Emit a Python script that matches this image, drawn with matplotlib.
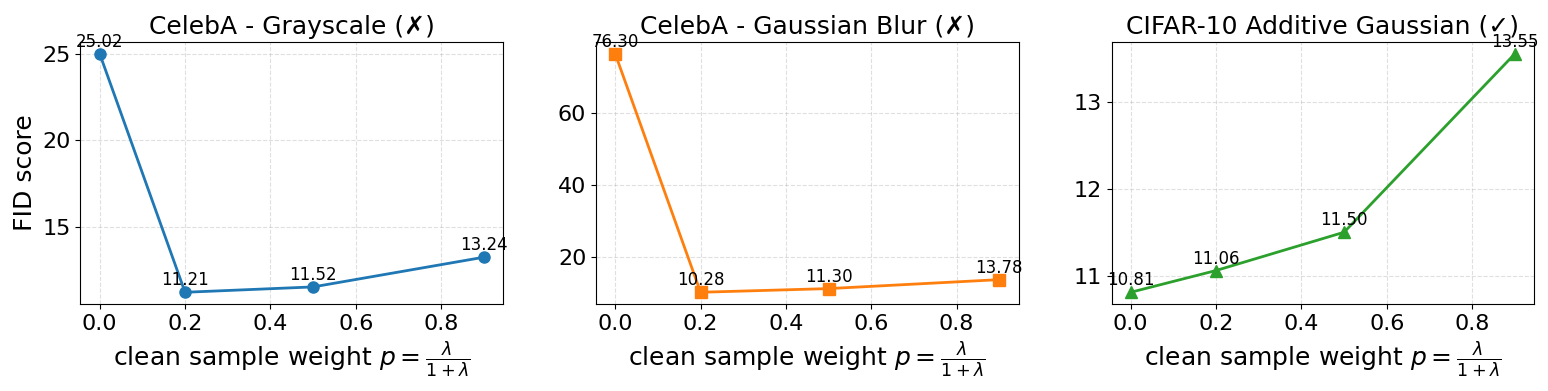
import matplotlib
matplotlib.use("Agg")
import matplotlib.pyplot as plt

p_values = [0.0, 0.2, 0.5, 0.9]
fid_gray = [25.02, 11.21, 11.52, 13.24]
fid_blur = [76.30, 10.28, 11.30, 13.78]
fid_cifar = [10.81, 11.06, 11.50, 13.55]

titles = ["CelebA - Grayscale (\u2717)", "CelebA - Gaussian Blur (\u2717)",
          "CIFAR-10 Additive Gaussian (\u2713)"]
series = [fid_gray, fid_blur, fid_cifar]
colors = ["#1f77b4", "#ff7f0e", "#2ca02c"]
markers = ["o", "s", "^"]

fig, axes = plt.subplots(1, 3, figsize=(15.48, 3.91), dpi=100)
fig.subplots_adjust(left=0.052, right=0.991, top=0.893, bottom=0.222, wspace=0.22)

for ax, title, ys, c, m in zip(axes, titles, series, colors, markers):
    ax.plot(p_values, ys, color=c, marker=m, linewidth=2, markersize=8)
    for x, y in zip(p_values, ys):
        ax.annotate(f"{y:.2f}", (x, y), textcoords="offset points", xytext=(0, 5),
                    ha="center", fontsize=12)
    ax.set_title(title, fontsize=18)
    ax.set_xlabel(r"clean sample weight $p = \frac{\lambda}{1+\lambda}$", fontsize=18)
    ax.grid(True, linestyle="--", alpha=0.4)
    ax.tick_params(labelsize=16)
    ax.set_xticks([0.0, 0.2, 0.4, 0.6, 0.8])

axes[0].set_ylabel("FID score", fontsize=18)

fig.savefig("out.png", dpi=100)
